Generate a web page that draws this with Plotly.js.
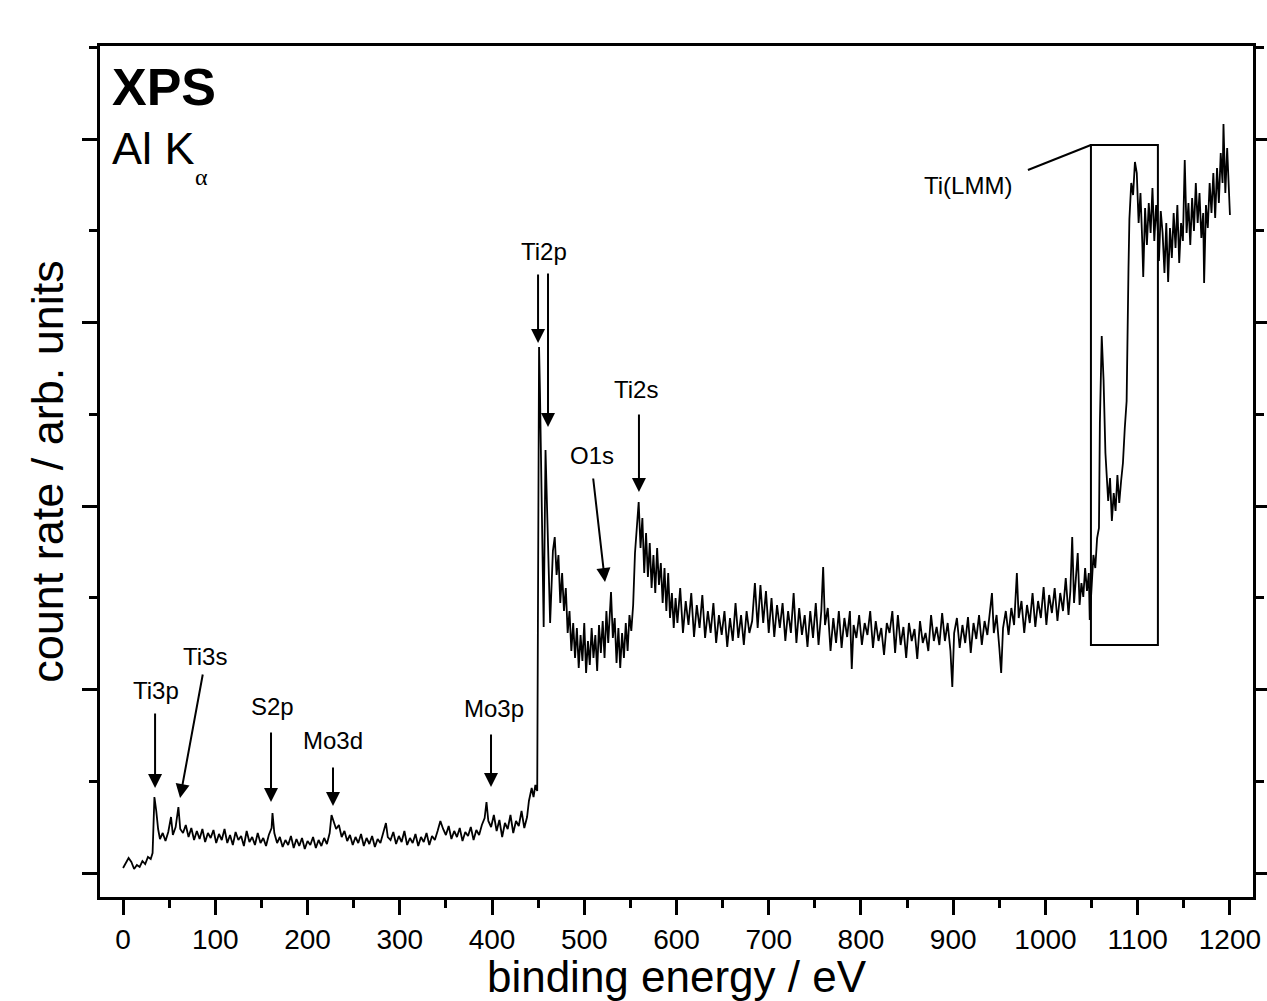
<!DOCTYPE html>
<html>
<head>
<meta charset="utf-8">
<script src="https://cdn.plot.ly/plotly-3.0.1.min.js"></script>
<style>html,body{margin:0;padding:0;background:#fff;}#chart{width:1267px;height:1001px;}</style>
</head>
<body>
<div id="chart"></div>
<script>
// XPS survey spectrum: [binding energy (eV), count rate (arb. units)]
const lowEdge = [[0,5],[3,10],[6,15],[9,11],[12,4],[15,8],[18,6],[21,12],[24,9],[27,16],[30,14],[32,20],[33,55],[34,76],[36,62],[38,44],[40,34],[43,40]];
const ti3sRegion = [[46,32],[49,41],[52,56],[54,38],[57,46],[59,58],[60,66],[62,44],[65,40],[68,48],[71,36],[74,45],[77,33],[80,42],[83,34],[86,44],[89,31],[92,40],[95,35],[98,43],[101,30],[104,39],[107,33],[110,44],[113,30],[116,38],[119,28],[122,41],[125,33],[128,37],[131,27],[134,42],[137,31],[140,36],[143,28],[146,40],[149,30],[152,35],[155,27],[158,38],[161,45],[162,60],[164,40],[167,30]];
const mo3dRegion = [[170,36],[173,26],[176,33],[179,28],[182,37],[185,25],[188,34],[191,27],[194,35],[197,24],[200,32],[203,28],[206,36],[209,25],[212,33],[215,27],[218,35],[221,29],[224,40],[226,58],[228,52],[231,44],[234,48],[237,36],[240,42],[243,32],[246,38],[249,28],[252,36],[255,30],[258,39],[261,27],[264,35],[267,29],[270,37],[273,26],[276,34],[279,30],[282,40],[285,50],[287,36],[290,33],[293,41],[296,29],[299,37],[302,31],[305,42],[308,28],[311,35],[314,30],[317,39],[320,27],[323,36],[326,31],[329,40],[332,28],[335,37],[338,33],[341,42]];
const mo3pRegion = [[344,52],[347,44],[350,38],[353,47],[356,34],[359,42],[362,36],[365,45],[368,32],[371,41],[374,37],[377,46],[380,33],[383,43],[386,38],[389,48],[392,55],[394,71],[396,52],[399,46],[402,58],[405,42],[408,53],[411,36],[414,50],[417,44],[420,58],[423,40],[426,52],[429,47],[432,62],[435,45],[438,56],[440,72],[443,85],[445,76],[447,88],[449,82]];
const ti2pRegion = [[451,526],[452,480],[454,380],[456,246],[458,423],[460,360],[462,280],[463,250],[466,322],[468,336],[470,298],[472,318],[474,270],[476,300],[478,262],[480,285],[482,240],[484,262],[486,222],[488,250],[490,215],[492,245],[494,205],[496,238],[498,212],[500,250],[502,200],[504,232],[506,208],[508,245],[510,215],[512,238],[514,202],[516,248],[518,220],[520,252],[522,215],[524,262],[526,230],[528,258],[529,281],[531,235],[533,255],[535,210],[537,245],[539,205],[541,240],[543,215],[545,250],[547,222],[549,258],[551,242],[553,268],[555,320],[557,350],[559,371],[561,325],[563,355],[565,300]];
const midRegion = [[567,340],[569,296],[571,330],[573,285],[575,318],[577,280],[579,325],[581,288],[583,310],[585,270],[587,305],[589,262],[591,300],[593,255],[595,280],[597,245],[599,275],[601,250],[604,285],[607,240],[610,272],[613,248],[616,280],[619,236],[622,268],[625,245],[628,278],[631,235],[634,262],[637,240],[640,270],[643,230],[646,258],[649,238],[652,262],[655,226],[658,255],[661,232],[664,270],[667,235],[670,258],[673,228],[676,262],[679,240],[682,252],[685,290],[688,245],[691,288],[694,250],[697,282],[700,240],[703,275],[706,236],[709,268],[712,245],[715,270],[718,232],[721,262],[724,240],[727,280],[730,230],[733,265],[736,238],[739,258],[742,226],[745,262],[748,235],[751,270],[754,228],[757,262],[759,306],[761,248],[764,265],[767,222],[770,255],[773,230],[776,262],[779,225],[782,255],[785,236],[788,262],[790,204],[792,248],[795,235],[798,258],[801,228],[804,250],[807,238],[810,262],[813,225],[816,252],[819,232],[822,245],[825,218],[828,250],[831,240],[834,262],[837,220],[840,258],[843,228],[846,246],[849,215],[852,250],[855,232],[858,244],[861,214],[864,252],[867,230],[870,240],[873,222],[876,258],[879,232],[882,246],[885,228]];
const highRegion = [[888,260],[891,232],[894,250],[897,222],[899,186],[901,240],[904,255],[907,225],[910,248],[913,230],[916,256],[919,220],[922,250],[925,234],[928,258],[931,228],[934,252],[937,238],[940,262],[942,280],[944,240],[947,258],[950,225],[952,200],[954,245],[957,262],[960,238],[963,265],[966,248],[969,300],[971,255],[974,272],[977,240],[980,268],[983,250],[986,280],[989,246],[992,272],[995,255],[998,286],[1001,248],[1004,278],[1007,260],[1010,285],[1013,252],[1016,280],[1019,262],[1022,295],[1025,258],[1027,282],[1029,336],[1031,270],[1033,295],[1035,320],[1037,268],[1039,290],[1041,276],[1043,305],[1045,282],[1047,300],[1048,253]];
const augerRegion = [[1050,290],[1052,318],[1054,305],[1056,335],[1058,345],[1059,450],[1061,537],[1063,493],[1065,420],[1066,400],[1068,372],[1070,395],[1072,352],[1074,380],[1076,362],[1078,398],[1080,370],[1082,392],[1084,410],[1086,445],[1088,472],[1090,604],[1091,654],[1093,690],[1095,678],[1097,711],[1099,700],[1101,650],[1103,680],[1105,630],[1106,596],[1108,665],[1110,628],[1112,670],[1114,640],[1116,685],[1118,632],[1120,668],[1122,640],[1123,612],[1125,662],[1127,640],[1129,600],[1131,650],[1133,591],[1135,645],[1137,615],[1139,660],[1141,625],[1143,668],[1145,610],[1147,650],[1149,632],[1151,713],[1153,640],[1155,670],[1157,628],[1159,675],[1161,642],[1163,690],[1165,650],[1167,680],[1169,635],[1171,660],[1172,590],[1174,668],[1176,645],[1178,690],[1180,660],[1182,700],[1184,655],[1186,705],[1188,670],[1190,720],[1192,690],[1193,749],[1195,680],[1197,725],[1199,665],[1200,658]];

const xTickValues = [0,100,200,300,400,500,600,700,800,900,1000,1100,1200];
const peakLabels = ['Ti3p','Ti3s','S2p','Mo3d','Mo3p','Ti2p','O1s','Ti2s'];
const augerLabel = 'Ti(LMM)';

const spectrum = [].concat(lowEdge, ti3sRegion, mo3dRegion, mo3pRegion, ti2pRegion, midRegion, highRegion, augerRegion);
const energy = spectrum.map(p => p[0]);
const countRate = spectrum.map(p => p[1]);

const trace = {
  x: energy, y: countRate, type: 'scatter', mode: 'lines',
  line: {color: 'black', width: 1.8}, hoverinfo: 'skip'
};

// label anchor (energy, count) and arrow tail -> tip in data coordinates
const labelPos = {
  'Ti3p': [35.2, 183], 'Ti3s': [88.9, 217], 'S2p': [161.5, 167], 'Mo3d': [227.6, 133],
  'Mo3p': [402.2, 165], 'Ti2p': [456.4, 622], 'O1s': [508.4, 418], 'Ti2s': [556.1, 484]
};
const arrowDefs = [
  [34.7, 161, 34.7, 85], [86.7, 200, 61.8, 75], [160.4, 142, 160.4, 71], [227.6, 107, 227.6, 67],
  [398.9, 140, 398.9, 86], [449.9, 600, 449.9, 530], [460.7, 601, 460.7, 446],
  [509.5, 396, 522.5, 291], [559.3, 460, 559.3, 381]
];

const FONT = 'Liberation Sans, Arial, sans-serif';
const annotations = [];
peakLabels.forEach(name => {
  const p = labelPos[name];
  annotations.push({x: p[0], y: p[1], xref: 'x', yref: 'y', text: name, showarrow: false,
    xanchor: 'center', yanchor: 'middle', font: {family: FONT, size: 24, color: 'black'}});
});
arrowDefs.forEach(a => {
  annotations.push({x: a[2], y: a[3], ax: a[0], ay: a[1], xref: 'x', yref: 'y', axref: 'x', ayref: 'y',
    text: '', showarrow: true, arrowhead: 2, arrowsize: 1.4, arrowwidth: 2, arrowcolor: 'black', standoff: 0});
});
annotations.push({x: 916, y: 688, xref: 'x', yref: 'y', text: augerLabel, showarrow: false,
  xanchor: 'center', yanchor: 'middle', font: {family: FONT, size: 24, color: 'black'}});
annotations.push({x: 0.0087, y: 0.952, xref: 'paper', yref: 'paper', text: '<b>XPS</b>', showarrow: false,
  xanchor: 'left', yanchor: 'middle', font: {family: FONT, size: 52, color: 'black'}});
annotations.push({x: 0.0087, y: 0.880, xref: 'paper', yref: 'paper', text: 'Al K', showarrow: false,
  xanchor: 'left', yanchor: 'middle', font: {family: FONT, size: 45, color: 'black'}});
annotations.push({x: 0.0876, y: 0.846, xref: 'paper', yref: 'paper', text: 'α', showarrow: false,
  xanchor: 'center', yanchor: 'middle', font: {family: 'Liberation Serif, Times New Roman, serif', size: 24, color: 'black'}});

const shapes = [
  {type: 'rect', xref: 'x', yref: 'y', x0: 1049.3, x1: 1121.9, y0: 228, y1: 728, line: {color: 'black', width: 2}},
  {type: 'line', xref: 'x', yref: 'y', x0: 981, y0: 703, x1: 1049.3, y1: 728, line: {color: 'black', width: 2}}
];

const layout = {
  width: 1267, height: 1001,
  margin: {l: 100, r: 14, t: 46, b: 104},
  paper_bgcolor: 'white', plot_bgcolor: 'white', showlegend: false,
  font: {family: FONT, color: 'black'},
  xaxis: {
    range: [-25, 1225], tickmode: 'array', tickvals: xTickValues, ticktext: xTickValues.map(String),
    ticks: 'outside', ticklen: 15, tickwidth: 3, tickcolor: 'black',
    showline: true, linewidth: 3, linecolor: 'black', mirror: true,
    showgrid: false, zeroline: false, tickfont: {family: FONT, size: 28, color: 'black'},
    minor: {tickmode: 'linear', tick0: 0, dtick: 50, ticks: 'outside', ticklen: 8, tickwidth: 3, tickcolor: 'black', showgrid: false},
    title: {text: 'binding energy / eV', font: {family: FONT, size: 44, color: 'black'}, standoff: 9},
    automargin: false
  },
  yaxis: {
    range: [-24, 827], tickmode: 'linear', tick0: 0, dtick: 183.5,
    ticks: 'outside', ticklen: 15, tickwidth: 3, tickcolor: 'black',
    showline: true, linewidth: 3, linecolor: 'black', mirror: 'ticks',
    showgrid: false, zeroline: false, showticklabels: false,
    minor: {tickmode: 'linear', tick0: 0, dtick: 91.75, ticks: 'outside', ticklen: 8, tickwidth: 3, tickcolor: 'black', showgrid: false},
    title: {text: 'count rate / arb. units', font: {family: FONT, size: 45, color: 'black'}, standoff: 5},
    automargin: false
  },
  annotations: annotations,
  shapes: shapes
};

Plotly.newPlot('chart', [trace], layout, {displayModeBar: false, staticPlot: true});
</script>
</body>
</html>
